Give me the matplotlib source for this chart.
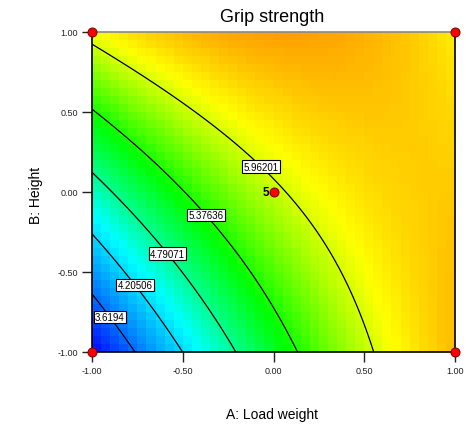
import numpy as np
import matplotlib
matplotlib.use("Agg")
import matplotlib.pyplot as plt
from matplotlib.colors import LinearSegmentedColormap

plt.rcParams['font.family'] = ['Liberation Sans', 'DejaVu Sans']

# response at the 3x3 coded grid (rows: B = -1, 0, 1; cols: A = -1, 0, 1)
a_levels = [-1.0, 0.0, 1.0]
b_levels = [-1.0, 0.0, 1.0]
grip = [[3.04, 5.16, 6.42],
        [4.605, 5.905, 6.345],
        [6.07, 6.55, 6.17]]

contour_levels = [3.6194, 4.20506, 4.79071, 5.37636, 5.96201]
contour_text = ['3.6194', '4.20506', '4.79071', '5.37636', '5.96201']

# design points: corners + centre (5 replicates)
pts_a = [-1, -1, 1, 1, 0]
pts_b = [-1, 1, -1, 1, 0]
center_reps = 5

ticks = [-1.0, -0.5, 0.0, 0.5, 1.0]
tick_text = ['-1.00', '-0.50', '0.00', '0.50', '1.00']

# quadratic model fitted to the grid values (like the software does)
AA, BB = np.meshgrid(a_levels, b_levels)
a_f, b_f, y_f = AA.ravel(), BB.ravel(), np.array(grip).ravel()
X = np.column_stack([np.ones_like(a_f), a_f, b_f, a_f * b_f, a_f**2, b_f**2])
coef = np.linalg.lstsq(X, y_f, rcond=None)[0]

def model(a, b):
    return (coef[0] + coef[1]*a + coef[2]*b + coef[3]*a*b
            + coef[4]*a**2 + coef[5]*b**2)

# coarse pixel grid like the original export
n = 40
edges = np.linspace(-1, 1, n + 1)
mids = (edges[:-1] + edges[1:]) / 2
MA, MB = np.meshgrid(mids, mids)
Z = model(MA, MB)

fine = np.linspace(-1, 1, 300)
FA, FB = np.meshgrid(fine, fine)
FZ = model(FA, FB)

vmin, vmax = 3.03, 6.55
def pos(v):
    return (v - vmin) / (vmax - vmin)
cmap = LinearSegmentedColormap.from_list('de', [
    (0.0, (0, 0, 1)),
    (pos(4.4), (0, 1, 1)),
    (pos(5.3), (0, 1, 0)),
    (pos(6.1), (1, 1, 0)),
    (1.0, (1, 160/255, 0))])

fig = plt.figure(figsize=(4.66, 4.27), dpi=100)
ax = fig.add_axes([92/466, 1-353/427, 363/466, 320/427])

ax.pcolormesh(edges, edges, Z, cmap=cmap, vmin=vmin, vmax=vmax, shading='flat')
cs = ax.contour(FA, FB, FZ, levels=contour_levels, colors='black', linewidths=0.9)

label_pos = [(-0.887, -0.769), (-0.747, -0.569), (-0.567, -0.369),
             (-0.353, -0.125), (-0.047, 0.184)]
fmt = dict(zip(contour_levels, contour_text))
labels = ax.clabel(cs, fmt=fmt, inline=False, fontsize=7, manual=label_pos)
for t in labels:
    t.set_rotation(0)
    t.set_bbox(dict(boxstyle='square,pad=0.12', fc='white', ec='black', lw=0.8))
    t.set_zorder(5)

ax.plot(pts_a, pts_b, 'o', color='red', mec='#7a0000', mew=0.7, ms=6.5,
        clip_on=False, zorder=10)
ax.annotate(str(center_reps), (0, 0), xytext=(-3, 0), textcoords='offset points',
            ha='right', va='center', fontsize=8.5, fontweight='bold', zorder=10)

ax.set_xlim(-1, 1)
ax.set_ylim(-1, 1)
ax.set_xticks(ticks)
ax.set_xticklabels(tick_text)
ax.set_yticks(ticks)
ax.set_yticklabels(tick_text)
ax.tick_params(length=7, width=1, pad=3, labelsize=6.5, colors='#222222')
for s in ax.spines.values():
    s.set_linewidth(1.2)
ax.spines['top'].set_color('#888888')

fig.text(272/466, 1-18/427, 'Grip strength', ha='center', va='center', fontsize=13)
fig.text(272/466, 1-415/427, 'A: Load weight', ha='center', va='center', fontsize=10)
fig.text(36/466, 1-195/427, 'B: Height', ha='center', va='center', rotation=90, fontsize=10)

fig.savefig('out.png', dpi=100)
